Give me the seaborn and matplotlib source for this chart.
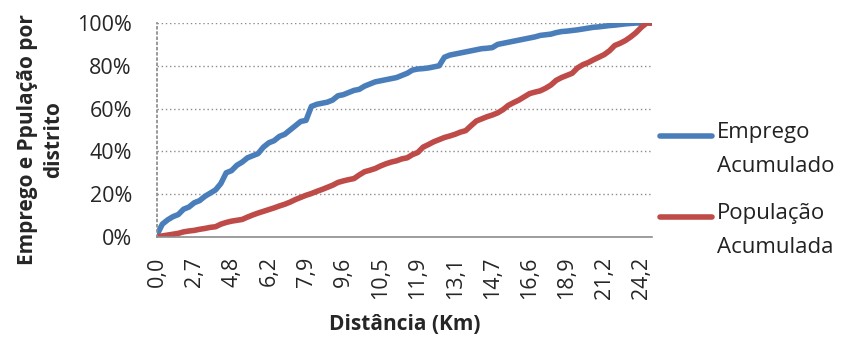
import matplotlib
matplotlib.use("Agg")
import matplotlib.pyplot as plt
import seaborn as sns
import pandas as pd
import numpy as np
from matplotlib.lines import Line2D

distancias = ["0,0", "0,6", "1,0", "1,4", "1,8", "2,1", "2,4",
              "2,7", "3,0", "3,3", "3,6", "3,9", "4,2", "4,5",
              "4,8", "5,0", "5,2", "5,4", "5,6", "5,8", "6,0",
              "6,2", "6,4", "6,7", "6,9", "7,2", "7,4", "7,7",
              "7,9", "8,1", "8,4", "8,6", "8,9", "9,1", "9,4",
              "9,6", "9,7", "9,8", "9,9", "10,0", "10,2", "10,3",
              "10,5", "10,7", "10,9", "11,1", "11,3", "11,5", "11,7",
              "11,9", "12,1", "12,2", "12,4", "12,6", "12,8", "12,9",
              "13,1", "13,3", "13,6", "13,8", "14,0", "14,2", "14,5",
              "14,7", "15,0", "15,2", "15,5", "15,8", "16,1", "16,3",
              "16,6", "16,9", "17,2", "17,6", "17,9", "18,2", "18,5",
              "18,9", "19,2", "19,5", "19,9", "20,2", "20,5", "20,9",
              "21,2", "21,6", "22,0", "22,5", "22,9", "23,3", "23,8",
              "24,2", "24,7", "25,3"]

emprego = [0.01, 0.06, 0.08, 0.095, 0.105, 0.13, 0.14, 0.16, 0.17, 0.19,
           0.205, 0.22, 0.25, 0.30, 0.31, 0.335, 0.35, 0.37, 0.38, 0.39,
           0.42, 0.44, 0.45, 0.47, 0.48, 0.50, 0.52, 0.54, 0.545, 0.61,
           0.62, 0.625, 0.63, 0.64, 0.66, 0.665, 0.675, 0.685, 0.69, 0.705,
           0.715, 0.725, 0.73, 0.735, 0.74, 0.745, 0.755, 0.765, 0.78, 0.785,
           0.787, 0.79, 0.795, 0.80, 0.84, 0.85, 0.855, 0.86, 0.865, 0.87,
           0.875, 0.88, 0.882, 0.885, 0.90, 0.905, 0.91, 0.915, 0.92, 0.925,
           0.93, 0.935, 0.942, 0.945, 0.948, 0.955, 0.96, 0.962, 0.965, 0.968,
           0.972, 0.976, 0.98, 0.982, 0.985, 0.988, 0.99, 0.993, 0.996, 0.998,
           1.0, 1.0, 1.0, 1.0]

populacao = [0.0, 0.005, 0.009, 0.013, 0.017, 0.024, 0.028, 0.031, 0.036, 0.04,
             0.045, 0.048, 0.06, 0.068, 0.074, 0.078, 0.082, 0.093, 0.103, 0.112,
             0.12, 0.128, 0.136, 0.145, 0.153, 0.163, 0.175, 0.185, 0.195, 0.203,
             0.213, 0.222, 0.232, 0.242, 0.255, 0.262, 0.268, 0.273, 0.29, 0.305,
             0.312, 0.32, 0.332, 0.342, 0.35, 0.356, 0.365, 0.37, 0.385, 0.395,
             0.42, 0.432, 0.445, 0.455, 0.465, 0.472, 0.48, 0.49, 0.497, 0.52,
             0.542, 0.552, 0.562, 0.57, 0.58, 0.595, 0.615, 0.628, 0.64, 0.655,
             0.67, 0.677, 0.683, 0.695, 0.71, 0.732, 0.745, 0.755, 0.765, 0.79,
             0.805, 0.815, 0.828, 0.84, 0.852, 0.87, 0.895, 0.905, 0.918, 0.935,
             0.955, 0.98, 1.0, 1.0]

series_names = ["Emprego\nAcumulado", "População\nAcumulada"]
yticks = [0, 0.2, 0.4, 0.6, 0.8, 1.0]
ytick_labels = ["0%", "20%", "40%", "60%", "80%", "100%"]

sns.set_theme(style="white")
plt.rcParams["font.family"] = ["Open Sans", "DejaVu Sans"]

n = len(distancias)
df = pd.DataFrame({
    "idx": list(range(n)) * 2,
    "valor": emprego + populacao,
    "serie": [series_names[0]] * n + [series_names[1]] * n,
})

colors = ["#4A7EBB", "#BE4B48"]
W, H = 843, 338
fig = plt.figure(figsize=(W / 100, H / 100), dpi=100)
ax = fig.add_axes([157 / W, 1 - 237 / H, (652 - 157) / W, (237 - 23) / H])
sns.lineplot(data=df, x="idx", y="valor", hue="serie", palette=colors,
             linewidth=4.0, ax=ax, legend=False)

ax.set_xlim(0, n - 1)
ax.set_ylim(0, 1.0)
ax.set_yticks(yticks)
ax.set_yticklabels(ytick_labels, fontsize=15.5)
ax.set_xticks(range(n))
ax.set_xticklabels([d if i % 7 == 0 else "" for i, d in enumerate(distancias)],
                   rotation=90, fontsize=15.5)
ax.tick_params(axis="x", length=5, width=1, color="#8c8c8c", direction="out", pad=9)
ax.tick_params(axis="y", length=6, width=1, color="#a0a0a0", pad=12)
for t in ax.get_yticklines():
    t.set_linestyle((0, (1, 1.5)))

ax.grid(axis="y", color="#8c8c8c", linestyle=(0, (1, 2)), linewidth=1)
for s in ["top", "right"]:
    ax.spines[s].set_visible(False)
ax.spines["left"].set_color("#8c8c8c")
ax.spines["left"].set_linestyle((0, (1, 2)))
ax.spines["bottom"].set_color("#8c8c8c")
ax.spines["bottom"].set_linewidth(1.2)

ax.set_xlabel("Distância (Km)", fontsize=15, fontweight="bold", labelpad=11)
ax.set_ylabel("Emprego e Ppulação por\ndistrito", fontsize=15, fontweight="bold",
              linespacing=1.3)
ax.yaxis.set_label_coords((64 - 157) / 495, (237 - 140) / 214)

# legend: handle aligned with the first line of each two-line label
leg_y = [136, 217]
for c, name, yy in zip(colors, series_names, leg_y):
    fig.add_artist(Line2D([660 / W, 712 / W], [1 - yy / H, 1 - yy / H],
                          color=c, linewidth=4.0, solid_capstyle="round",
                          transform=fig.transFigure))
    fig.text(717 / W, 1 - (yy - 14) / H, name, fontsize=16, va="top", ha="left",
             linespacing=1.8, color="#222222")

fig.savefig("out.png", dpi=100)
